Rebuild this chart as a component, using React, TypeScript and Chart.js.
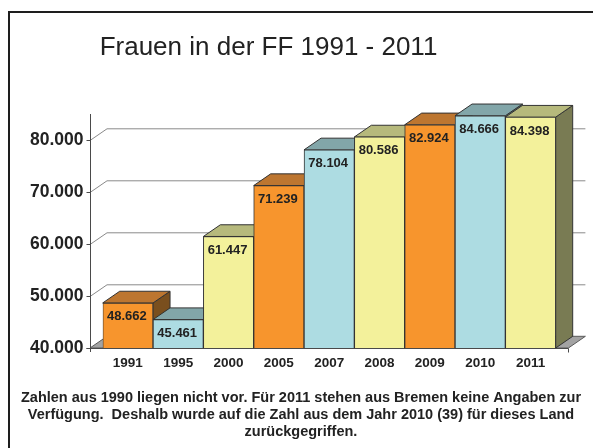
import React, { useEffect, useRef } from "react";
import { Chart, registerables } from "chart.js";

Chart.register(...registerables);

const categories = ["1991", "1995", "2000", "2005", "2007", "2008", "2009", "2010", "2011"];
const values = [48662, 45461, 61447, 71239, 78104, 80586, 82924, 84666, 84398];
const yTicks = [40000, 50000, 60000, 70000, 80000];
const yMin = 40000;
const yMax = 85000;
const titleText = "Frauen in der FF 1991 - 2011";
const footerLines = [
  "Zahlen aus 1990 liegen nicht vor. Für 2011 stehen aus Bremen keine Angaben zur",
  "Verfügung.  Deshalb wurde auf die Zahl aus dem Jahr 2010 (39) für dieses Land",
  "zurückgegriffen.",
];

const palette = {
  orange: { front: "#F7952D", top: "#BD7630", side: "#7A4F1E" },
  blue: { front: "#ADDCE2", top: "#82A6A9", side: "#5E7F82" },
  yellow: { front: "#F3F19B", top: "#B6B97C", side: "#797B53" },
};
const barColors = [
  palette.orange, palette.blue, palette.yellow,
  palette.orange, palette.blue, palette.yellow,
  palette.orange, palette.blue, palette.yellow,
];

const FONT = '"Liberation Sans", Arial, Helvetica, sans-serif';
const DX = 17;
const DY = 11.7;
const PAD_X = 12.7;

function fmt(v: number): string {
  const s = String(Math.round(v));
  return s.replace(/\B(?=(\d{3})+(?!\d))/g, ".");
}

function poly(ctx: CanvasRenderingContext2D, pts: number[][], fill: string | null, stroke: string | null) {
  ctx.beginPath();
  ctx.moveTo(pts[0][0], pts[0][1]);
  for (let i = 1; i < pts.length; i++) ctx.lineTo(pts[i][0], pts[i][1]);
  ctx.closePath();
  if (fill) {
    ctx.fillStyle = fill;
    ctx.fill();
  }
  if (stroke) {
    ctx.strokeStyle = stroke;
    ctx.lineWidth = 1;
    ctx.stroke();
  }
}

const decor = {
  id: "decor3d",
  beforeDraw(chart: any) {
    const ctx: CanvasRenderingContext2D = chart.ctx;
    ctx.save();
    ctx.fillStyle = "#ffffff";
    ctx.fillRect(0, 0, chart.width, chart.height);
    // frame
    ctx.fillStyle = "#1e1e1e";
    ctx.fillRect(8, 11, chart.width, 2);
    ctx.fillRect(8, 11, 2, chart.height);
    // title
    ctx.fillStyle = "#222222";
    ctx.font = `26px ${FONT}`;
    ctx.textAlign = "center";
    ctx.textBaseline = "alphabetic";
    ctx.fillText(titleText, 268.5, 54.5);
    // footer
    ctx.font = `bold 14.5px ${FONT}`;
    footerLines.forEach((line, i) => {
      ctx.fillText(line, 301, 401.5 + i * 17);
    });
    ctx.restore();
  },
  beforeDatasetsDraw(chart: any) {
    const ctx: CanvasRenderingContext2D = chart.ctx;
    const ys = chart.scales.y;
    const area = chart.chartArea;
    const axL = area.left - PAD_X;
    const axR = area.right + PAD_X;
    const base = ys.getPixelForValue(yMin);
    ctx.save();
    // floor
    poly(ctx, [[axL, base], [axR, base], [axR + DX, base - DY], [axL + DX, base - DY]], "#A3A3A3", "#5a5a5a");
    // back wall grid lines
    ctx.strokeStyle = "#8a8a8a";
    ctx.lineWidth = 1;
    yTicks.forEach((t) => {
      if (t === yMin) return;
      const py = Math.round(ys.getPixelForValue(t)) + 0.5;
      ctx.beginPath();
      ctx.moveTo(axL, py);
      ctx.lineTo(axL + DX, py - DY);
      ctx.lineTo(axR + DX, py - DY);
      ctx.stroke();
    });
    // y axis line and ticks
    ctx.strokeStyle = "#4a4a4a";
    const ax = Math.round(axL) + 0.5;
    ctx.beginPath();
    ctx.moveTo(ax, ys.getPixelForValue(yMax));
    ctx.lineTo(ax, base + 4);
    ctx.stroke();
    yTicks.forEach((t) => {
      const py = Math.round(ys.getPixelForValue(t)) + 0.5;
      ctx.beginPath();
      ctx.moveTo(ax - 4, py);
      ctx.lineTo(ax, py);
      ctx.stroke();
    });
    // x axis line
    const by = Math.round(base) + 0.5;
    ctx.beginPath();
    ctx.moveTo(ax - 4, by);
    ctx.lineTo(axR, by);
    ctx.moveTo(Math.round(axR) + 0.5, by);
    ctx.lineTo(Math.round(axR) + 0.5, by + 4);
    ctx.stroke();
    // y tick labels
    ctx.fillStyle = "#222222";
    ctx.font = `bold 17.5px ${FONT}`;
    ctx.textAlign = "right";
    ctx.textBaseline = "middle";
    yTicks.forEach((t) => {
      ctx.fillText(fmt(t), ax - 7, ys.getPixelForValue(t) + 0.5);
    });
    // x labels
    ctx.font = `bold 13.5px ${FONT}`;
    ctx.textAlign = "center";
    ctx.textBaseline = "alphabetic";
    const meta = chart.getDatasetMeta(0);
    meta.data.forEach((el: any, i: number) => {
      ctx.fillText(categories[i], el.x, base + 19.3);
    });
    // 3D side & top faces
    meta.data.forEach((el: any, i: number) => {
      const L = el.x - el.width / 2;
      const R = el.x + el.width / 2;
      const T = el.y;
      const B = base;
      const c = barColors[i];
      poly(ctx, [[R, T], [R + DX, T - DY], [R + DX, B - DY], [R, B]], c.side, "#333333");
      poly(ctx, [[L, T], [R, T], [R + DX, T - DY], [L + DX, T - DY]], c.top, "#333333");
    });
    ctx.restore();
  },
  afterDatasetsDraw(chart: any) {
    const ctx: CanvasRenderingContext2D = chart.ctx;
    const meta = chart.getDatasetMeta(0);
    ctx.save();
    ctx.fillStyle = "#222222";
    ctx.font = `bold 13px ${FONT}`;
    ctx.textAlign = "center";
    ctx.textBaseline = "alphabetic";
    meta.data.forEach((el: any, i: number) => {
      ctx.fillText(fmt(values[i]), el.x - 1, el.y + 17.4);
    });
    ctx.restore();
  },
};

export default function App() {
  const ref = useRef<HTMLCanvasElement | null>(null);
  useEffect(() => {
    if (!ref.current) return;
    const chart = new Chart(ref.current, {
      type: "bar",
      data: {
        labels: categories,
        datasets: [
          {
            data: values,
            backgroundColor: barColors.map((c) => c.front),
            borderColor: "#333333",
            borderWidth: 1,
            borderSkipped: false,
            barPercentage: 1,
            categoryPercentage: 1,
          } as any,
        ],
      },
      options: {
        responsive: false,
        animation: false,
        devicePixelRatio: 1,
        layout: { padding: { left: 102.7, right: 37.3, top: 114, bottom: 100 } },
        scales: {
          x: { display: false },
          y: { display: false, min: yMin, max: yMax },
        },
        plugins: {
          legend: { display: false },
          tooltip: { enabled: false },
          title: { display: false },
        },
      },
      plugins: [decor],
    });
    return () => chart.destroy();
  }, []);
  return (
    <div style={{ position: "absolute", left: 0, top: 0, width: 593, height: 448, background: "#fff" }}>
      <canvas ref={ref} width={593} height={448} style={{ width: 593, height: 448, display: "block" }} />
    </div>
  );
}
